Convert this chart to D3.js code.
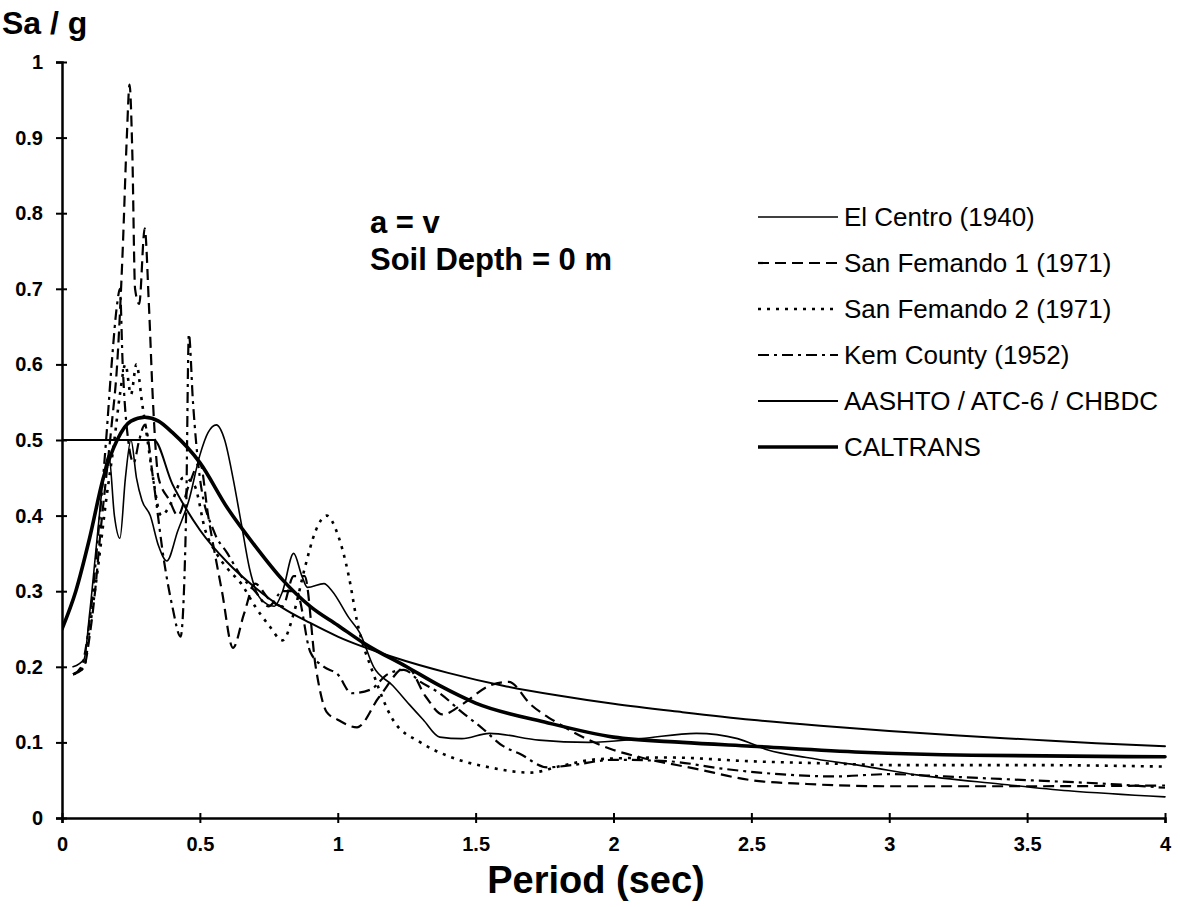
<!DOCTYPE html>
<html>
<head>
<meta charset="utf-8">
<script src="https://cdn.jsdelivr.net/npm/d3@7"></script>
<style>
  html, body { margin: 0; padding: 0; background: #fff; }
  svg { display: block; }
</style>
</head>
<body>
<div id="chart"></div>
<script>
// period (sec), Sa/g pairs
const elCentro = [
  [0.04, 0.20], [0.08, 0.21], [0.10, 0.27], [0.13, 0.38], [0.15, 0.45], [0.17, 0.48],
  [0.19, 0.40], [0.21, 0.37], [0.23, 0.45], [0.25, 0.50], [0.27, 0.45], [0.29, 0.42],
  [0.32, 0.40], [0.35, 0.36], [0.38, 0.34], [0.42, 0.38], [0.46, 0.42], [0.50, 0.48],
  [0.53, 0.51], [0.56, 0.52], [0.59, 0.50], [0.62, 0.45], [0.65, 0.39], [0.68, 0.33],
  [0.72, 0.29], [0.77, 0.28], [0.80, 0.30], [0.84, 0.35], [0.87, 0.32], [0.89, 0.305],
  [0.95, 0.31], [0.98, 0.30], [1.04, 0.265], [1.08, 0.245], [1.13, 0.20], [1.20, 0.175],
  [1.26, 0.15], [1.31, 0.13], [1.37, 0.107], [1.45, 0.105], [1.55, 0.112], [1.73, 0.103],
  [1.91, 0.10], [2.1, 0.105], [2.3, 0.112], [2.45, 0.105], [2.56, 0.09], [2.7, 0.08],
  [2.92, 0.068], [3.1, 0.057], [3.4, 0.045], [3.65, 0.036], [4.0, 0.028]
];

const sanFernando1 = [
  [0.04, 0.19], [0.08, 0.20], [0.10, 0.24], [0.12, 0.30], [0.14, 0.38], [0.16, 0.45],
  [0.18, 0.52], [0.20, 0.60], [0.22, 0.75], [0.235, 0.90], [0.245, 0.97], [0.255, 0.88],
  [0.265, 0.70], [0.28, 0.68], [0.30, 0.78], [0.315, 0.68], [0.33, 0.55], [0.35, 0.45],
  [0.39, 0.42], [0.42, 0.40], [0.46, 0.44], [0.50, 0.47], [0.53, 0.40], [0.58, 0.30],
  [0.62, 0.225], [0.66, 0.27], [0.70, 0.31], [0.75, 0.29], [0.80, 0.28], [0.84, 0.32],
  [0.88, 0.32], [0.92, 0.20], [0.96, 0.14], [1.0, 0.13], [1.07, 0.12], [1.15, 0.16],
  [1.25, 0.20], [1.32, 0.16], [1.38, 0.137], [1.45, 0.15], [1.55, 0.175], [1.62, 0.18],
  [1.70, 0.15], [1.80, 0.125], [1.90, 0.105], [2.0, 0.09], [2.1, 0.08], [2.3, 0.065],
  [2.5, 0.05], [2.7, 0.045], [3.0, 0.042], [3.5, 0.042], [4.0, 0.043]
];

const sanFernando2 = [
  [0.04, 0.19], [0.08, 0.20], [0.10, 0.25], [0.13, 0.33], [0.16, 0.42], [0.19, 0.50],
  [0.21, 0.56], [0.23, 0.60], [0.25, 0.56], [0.27, 0.60], [0.29, 0.55], [0.31, 0.50],
  [0.33, 0.45], [0.36, 0.40], [0.40, 0.42], [0.44, 0.45], [0.48, 0.44], [0.52, 0.38],
  [0.56, 0.35], [0.60, 0.33], [0.65, 0.31], [0.70, 0.28], [0.75, 0.255], [0.80, 0.235],
  [0.84, 0.27], [0.88, 0.33], [0.92, 0.38], [0.96, 0.40], [1.0, 0.375], [1.04, 0.32],
  [1.07, 0.26], [1.13, 0.19], [1.20, 0.13], [1.30, 0.10], [1.40, 0.082], [1.55, 0.067],
  [1.70, 0.06], [1.80, 0.068], [1.95, 0.078], [2.2, 0.08], [2.5, 0.075], [2.8, 0.072],
  [3.0, 0.07], [3.5, 0.07], [4.0, 0.068]
];

const kernCounty = [
  [0.04, 0.19], [0.07, 0.20], [0.10, 0.26], [0.13, 0.37], [0.16, 0.50], [0.18, 0.60],
  [0.20, 0.68], [0.21, 0.70], [0.22, 0.60], [0.24, 0.50], [0.26, 0.47], [0.28, 0.50],
  [0.30, 0.52], [0.33, 0.45], [0.37, 0.34], [0.40, 0.28], [0.43, 0.24], [0.45, 0.40],
  [0.46, 0.64], [0.475, 0.55], [0.50, 0.45], [0.55, 0.38], [0.60, 0.35], [0.65, 0.32],
  [0.70, 0.30], [0.75, 0.28], [0.80, 0.30], [0.85, 0.30], [0.90, 0.22], [0.95, 0.20],
  [1.0, 0.19], [1.05, 0.165], [1.12, 0.17], [1.18, 0.19], [1.24, 0.196], [1.30, 0.18],
  [1.37, 0.165], [1.45, 0.14], [1.52, 0.12], [1.60, 0.095], [1.66, 0.085], [1.76, 0.067],
  [1.85, 0.07], [2.0, 0.077], [2.2, 0.075], [2.4, 0.065], [2.6, 0.058], [2.8, 0.055],
  [3.0, 0.058], [3.2, 0.055], [3.5, 0.05], [3.8, 0.045], [4.0, 0.04]
];

const aashto = [
  [0.0, 0.50], [0.333, 0.50], [0.4, 0.442], [0.45, 0.409], [0.5, 0.381], [0.6, 0.338],
  [0.7, 0.305], [0.8, 0.278], [0.9, 0.258], [1.0, 0.24], [1.2, 0.213], [1.4, 0.192],
  [1.6, 0.175], [1.8, 0.162], [2.0, 0.151], [2.25, 0.14], [2.5, 0.13], [2.75, 0.122],
  [3.0, 0.115], [3.25, 0.109], [3.5, 0.104], [3.75, 0.099], [4.0, 0.095]
];

const caltrans = [
  [0.0, 0.25], [0.05, 0.30], [0.10, 0.37], [0.15, 0.45], [0.20, 0.50], [0.25, 0.525],
  [0.30, 0.53], [0.35, 0.525], [0.40, 0.51], [0.50, 0.47], [0.60, 0.41], [0.70, 0.36],
  [0.80, 0.315], [0.90, 0.28], [1.0, 0.255], [1.1, 0.23], [1.25, 0.20], [1.37, 0.175],
  [1.5, 0.152], [1.75, 0.127], [2.0, 0.107], [2.25, 0.10], [2.5, 0.095], [2.9, 0.087],
  [3.3, 0.083], [4.0, 0.081]
];

const seriesNames = [
  "El Centro (1940)", "San Femando 1 (1971)", "San Femando 2 (1971)",
  "Kem County (1952)", "AASHTO / ATC-6 / CHBDC", "CALTRANS"
];
const seriesData = [elCentro, sanFernando1, sanFernando2, kernCounty, aashto, caltrans];
const seriesDash = [null, "11 6", "3 6", "11 5 3 5", null, null];
const seriesWidth = [1.6, 2.2, 2.6, 2.2, 2.0, 3.6];

const xTicks = [0, 0.5, 1, 1.5, 2, 2.5, 3, 3.5, 4];
const yTicks = [0, 0.1, 0.2, 0.3, 0.4, 0.5, 0.6, 0.7, 0.8, 0.9, 1];

const width = 1180, height = 907;
const margin = { top: 62, right: 15, bottom: 89, left: 62 };
const innerW = width - margin.left - margin.right;
const innerH = height - margin.top - margin.bottom;
const font = "'Liberation Sans', Arial, Helvetica, sans-serif";

const svg = d3.select("#chart").append("svg")
  .attr("width", width)
  .attr("height", height)
  .attr("viewBox", `0 0 ${width} ${height}`);

const root = svg.append("g").attr("transform", `translate(${margin.left}, ${margin.top})`);

const x = d3.scaleLinear().domain([0, 4]).range([0, innerW]);
const y = d3.scaleLinear().domain([0, 1]).range([innerH, 0]);

// curves
root.append("clipPath").attr("id", "plot-clip")
  .append("rect").attr("x", 0).attr("y", -5).attr("width", innerW + 2).attr("height", innerH + 5);

const line = d3.line()
  .x((d) => x(d[0]))
  .y((d) => y(d[1]))
  .curve(d3.curveMonotoneX);

const curves = root.append("g").attr("clip-path", "url(#plot-clip)");
seriesData.forEach((data, i) => {
  curves.append("path")
    .datum(data)
    .attr("d", line)
    .attr("fill", "none")
    .attr("stroke", "#000")
    .attr("stroke-width", seriesWidth[i])
    .attr("stroke-dasharray", seriesDash[i])
    .attr("stroke-linejoin", "round")
    .attr("stroke-linecap", seriesDash[i] ? "butt" : "round");
});

// axes
const xAxis = root.append("g")
  .attr("transform", `translate(0, ${innerH})`)
  .call(d3.axisBottom(x).tickValues(xTicks).tickSize(5).tickPadding(14).tickFormat(d3.format("")));
xAxis.select(".domain").attr("stroke", "#000").attr("stroke-width", 2.5);
xAxis.selectAll(".tick line").attr("stroke", "#000").attr("stroke-width", 2).attr("y1", -5);
xAxis.selectAll("text").attr("fill", "#000").attr("font-size", 20).attr("font-weight", "bold").attr("font-family", font);

const yAxis = root.append("g")
  .call(d3.axisLeft(y).tickValues(yTicks).tickSize(6).tickPadding(13).tickFormat(d3.format("")));
yAxis.select(".domain").attr("stroke", "#000").attr("stroke-width", 2.5);
yAxis.selectAll(".tick line").attr("stroke", "#000").attr("stroke-width", 2).attr("x1", 5);
yAxis.selectAll("text").attr("fill", "#000").attr("font-size", 20).attr("font-weight", "bold").attr("font-family", font);

// axis titles
svg.append("text")
  .attr("x", 2).attr("y", 34)
  .attr("font-family", font).attr("font-size", 32).attr("font-weight", "bold")
  .text("Sa / g");

svg.append("text")
  .attr("x", 596).attr("y", 893)
  .attr("text-anchor", "middle")
  .attr("font-family", font).attr("font-size", 38).attr("font-weight", "bold")
  .text("Period (sec)");

// annotation
svg.append("text")
  .attr("x", 370).attr("y", 233)
  .attr("font-family", font).attr("font-size", 31).attr("font-weight", "bold")
  .text("a = v");
svg.append("text")
  .attr("x", 370).attr("y", 270)
  .attr("font-family", font).attr("font-size", 31).attr("font-weight", "bold")
  .text("Soil Depth = 0 m");

// legend
const legend = svg.append("g").attr("transform", "translate(758, 217)");
seriesNames.forEach((name, i) => {
  const row = legend.append("g").attr("transform", `translate(0, ${i * 46})`);
  row.append("line")
    .attr("x1", 0).attr("x2", 80).attr("y1", 0).attr("y2", 0)
    .attr("stroke", "#000")
    .attr("stroke-width", seriesWidth[i])
    .attr("stroke-dasharray", seriesDash[i]);
  row.append("text")
    .attr("x", 86).attr("y", 9)
    .attr("font-family", font).attr("font-size", 26)
    .text(name);
});
</script>
</body>
</html>
